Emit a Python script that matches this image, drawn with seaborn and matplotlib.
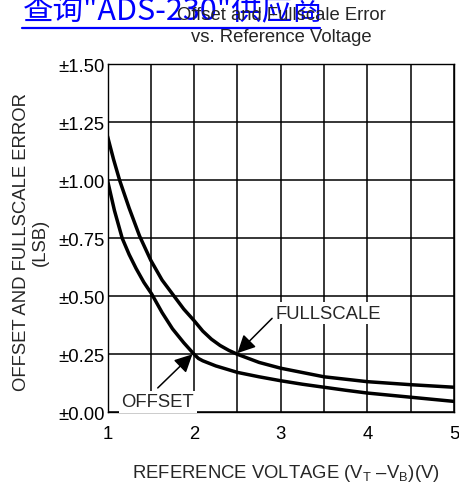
# -*- coding: utf-8 -*-
# Offset and fullscale error vs. reference voltage

import pandas as pd
import matplotlib
matplotlib.use('Agg')
import matplotlib.pyplot as plt
import seaborn as sns

# data
offset_v = [1.0, 1.08, 1.17, 1.25, 1.33, 1.42, 1.51, 1.63, 1.75, 1.88, 2.0,
            2.05, 2.1, 2.25, 2.5, 2.75, 3.0, 3.25, 3.5, 3.75, 4.0, 4.5, 5.0]
offset_err = [1.0, 0.87, 0.75, 0.68, 0.62, 0.56, 0.51, 0.43, 0.36, 0.3, 0.25,
              0.232, 0.222, 0.2, 0.172, 0.153, 0.136, 0.121, 0.108, 0.095, 0.083, 0.065, 0.047]
full_v = [1.0, 1.07, 1.14, 1.25, 1.37, 1.5, 1.63, 1.77, 1.88, 2.0, 2.1,
          2.2, 2.3, 2.4, 2.5, 2.75, 3.0, 3.5, 4.0, 4.5, 5.0]
full_err = [1.19, 1.09, 1.0, 0.88, 0.76, 0.655, 0.57, 0.5, 0.445, 0.395, 0.35,
            0.315, 0.288, 0.267, 0.25, 0.215, 0.19, 0.153, 0.132, 0.119, 0.108]

y_ticks = [0.0, 0.25, 0.5, 0.75, 1.0, 1.25, 1.5]
y_labels = ['±%.2f' % v for v in y_ticks]
x_ticks = [1, 2, 3, 4, 5]
x_minor = [1.5, 2.5, 3.5, 4.5]

df = pd.DataFrame({
    'V': offset_v + full_v,
    'err': offset_err + full_err,
    'curve': ['OFFSET'] * len(offset_v) + ['FULLSCALE'] * len(full_v),
})

sns.set_style('white')
plt.rcParams['font.family'] = ['Liberation Sans', 'DejaVu Sans']
plt.rcParams['mathtext.fontset'] = 'custom'
plt.rcParams['mathtext.rm'] = 'Liberation Sans'

fig = plt.figure(figsize=(4.59, 4.85), dpi=100)
ax = fig.add_axes([107.5 / 459, 1 - 413.3 / 485, 346.5 / 459, 348 / 485])

sns.lineplot(data=df, x='V', y='err', hue='curve', palette=['black', 'black'],
             linewidth=2.5, legend=False, sort=False, ax=ax, zorder=3)

ax.set_xlim(1, 5)
ax.set_ylim(0, 1.5)
ax.set_xticks(x_ticks)
ax.set_xticks(x_minor, minor=True)
ax.set_yticks(y_ticks)
ax.set_yticklabels(y_labels)
ax.tick_params(axis='both', which='both', length=0, labelsize=13.3, colors='black')
ax.tick_params(axis='x', pad=9)
ax.tick_params(axis='y', pad=2)
ax.grid(True, which='both', color='black', linewidth=1.1, zorder=1)
ax.set_axisbelow(True)
for s in ax.spines.values():
    s.set_color('black')
    s.set_linewidth(1.0)

ax.set_xlabel('')
ax.set_ylabel('')
fig.text(286 / 459, 1 - 474 / 485,
         r'REFERENCE VOLTAGE (V$_\mathregular{T}$ –V$_\mathregular{B}$)(V)',
         ha='center', va='center', fontsize=13.3)
fig.text(31 / 459, 1 - 242 / 485, 'OFFSET AND FULLSCALE ERROR\n(LSB)',
         rotation=90, ha='center', va='center', fontsize=13.3,
         multialignment='center', linespacing=1.1)

fig.text(281 / 459, 1 - 15 / 485, 'Offset and Fullscale Error',
         ha='center', va='center', fontsize=13.3)
fig.text(281 / 459, 1 - 37 / 485, 'vs. Reference Voltage',
         ha='center', va='center', fontsize=13.3)

box = dict(facecolor='white', edgecolor='none', pad=2)
arrow = dict(arrowstyle='-|>', color='black', lw=1.1, mutation_scale=27,
             shrinkA=0, shrinkB=0)
ax.annotate('', xy=(2.5, 0.255), xytext=(2.9, 0.405), arrowprops=arrow, zorder=4)
ax.annotate('', xy=(1.98, 0.25), xytext=(1.58, 0.105), arrowprops=arrow, zorder=4)
ax.text(2.94, 0.428, 'FULLSCALE', ha='left', va='center', fontsize=13.3,
        bbox=box, zorder=5)
ax.text(1.58, 0.045, 'OFFSET', ha='center', va='center', fontsize=13.3,
        bbox=box, zorder=5)

# blue link text at the top of the page (clipped by the top edge, as in the source)
fig.text(23 / 459, 1 - 19 / 485, '查询"ADS-230"供应商', ha='left',
         va='baseline', fontsize=22, color='#0000ff',
         family=['Noto Sans CJK SC', 'DejaVu Sans'], zorder=0)
fig.add_artist(plt.Line2D([22 / 459, 320 / 459], [1 - 28.5 / 485, 1 - 28.5 / 485],
                          color='#0000ff', linewidth=1.6, zorder=0))

fig.savefig('out.png', dpi=100)
